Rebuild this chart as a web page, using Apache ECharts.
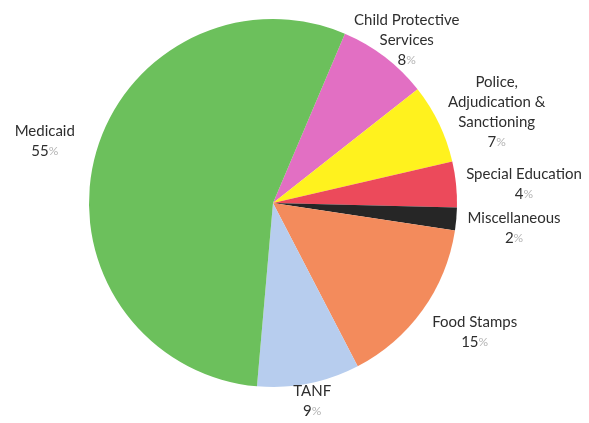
<!DOCTYPE html>
<html>
<head>
<meta charset="utf-8">
<script src="https://cdn.jsdelivr.net/npm/echarts@6/dist/echarts.min.js"></script>
<style>
html,body{margin:0;padding:0;background:#fff;}
#chart{width:589px;height:423px;}
</style>
</head>
<body>
<div id="chart"></div>
<script>
// Data (clockwise order starting at the top, just right of 12 o'clock)
const categories = ['Child Protective\nServices', 'Police,\nAdjudication &\nSanctioning', 'Special Education', 'Miscellaneous', 'Food Stamps', 'TANF', 'Medicaid'];
const shares = [8, 7, 4, 2, 15, 9, 55];

// Styles
const colors = ['#e26fc3', '#fff21e', '#ec4a5b', '#262626', '#f38b5c', '#b7cdee', '#6cc05c'];
const labelGap = [-14, 10, 10, 12, 18, -2, 23];      // extra distance beyond the rim
const labelTurn = [2, 3.4, 1.5, 0.9, -3, 0, 1.2];     // small angular nudge (deg, clockwise)
const CX = 273, CY = 203, R = 184, START = 67;
const total = shares.reduce((a, b) => a + b, 0);

const chart = echarts.init(document.getElementById('chart'));
chart.setOption({
  backgroundColor: '#ffffff',
  animation: false,
  series: [{
    type: 'pie',
    center: [CX, CY],
    radius: R,
    startAngle: START,
    clockwise: true,
    avoidLabelOverlap: false,
    data: categories.map((c, i) => ({ name: c, value: shares[i], itemStyle: { color: colors[i] } })),
    itemStyle: { borderWidth: 0 },
    emphasis: { disabled: true },
    label: {
      show: true,
      position: 'outside',
      fontFamily: 'Lato',
      fontSize: 15,
      color: '#2e2e2e',
      lineHeight: 20,
      align: 'center',
      formatter: p => p.name + '\n{n|' + p.value + '}{p|%}',
      rich: {
        n: { fontFamily: 'Lato', fontSize: 15, color: '#2e2e2e', lineHeight: 20, align: 'center' },
        p: { fontFamily: 'Lato', fontSize: 12, color: '#b4b4b4', lineHeight: 20, align: 'center' }
      }
    },
    labelLine: { show: false },
    labelLayout: function (p) {
      const i = p.dataIndex;
      let cum = 0;
      for (let j = 0; j < i; j++) cum += shares[j];
      const mid = (START - (cum + shares[i] / 2) / total * 360 - labelTurn[i]) * Math.PI / 180;
      const dx = Math.cos(mid), dy = -Math.sin(mid);
      const hw = p.labelRect.width / 2, hh = p.labelRect.height / 2;
      const e = Math.sqrt((hw * dx) * (hw * dx) + (hh * dy) * (hh * dy));
      const d = R + labelGap[i] + e;
      return { x: CX + d * dx, y: CY + d * dy, align: 'center', verticalAlign: 'middle' };
    }
  }]
});
</script>
</body>
</html>
